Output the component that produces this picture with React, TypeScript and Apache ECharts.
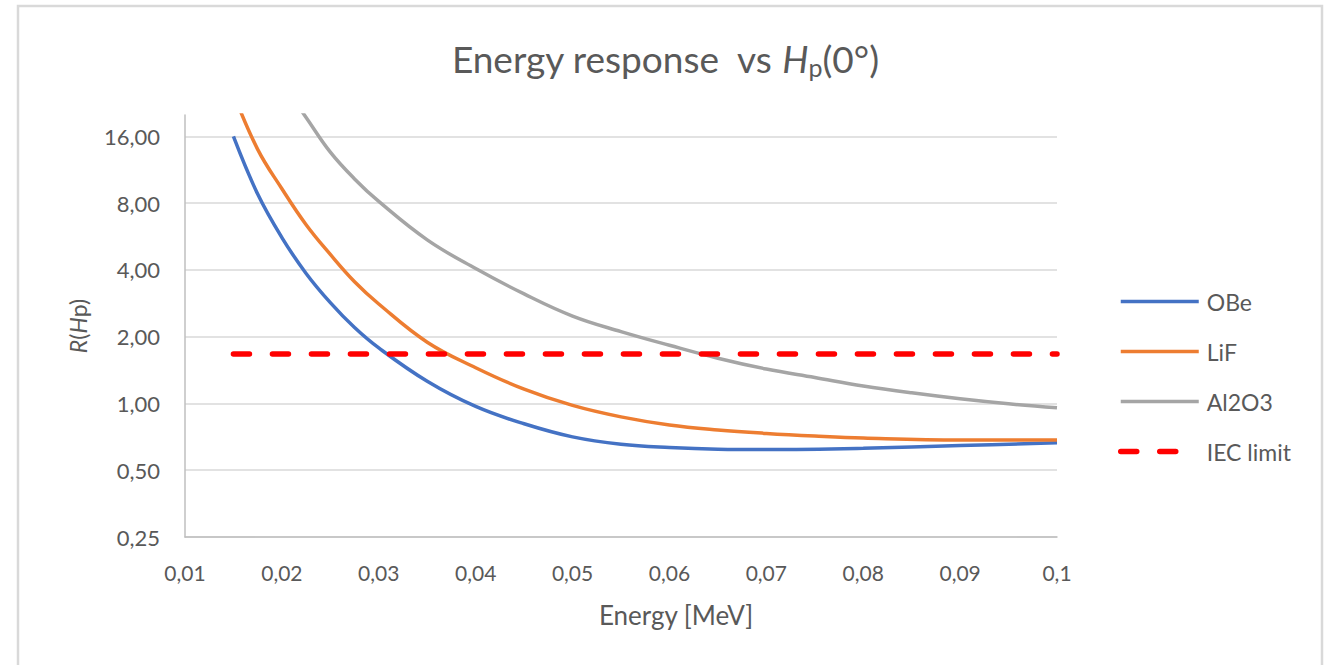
import React, { useEffect, useRef } from 'react';
import * as echarts from 'echarts';

// Energy [MeV] / response R(Hp) readings per series
const obeEnergy = [0.015, 0.0175, 0.02, 0.0225, 0.025, 0.0275, 0.03, 0.035, 0.04, 0.045, 0.05, 0.055, 0.06, 0.065, 0.07, 0.08, 0.09, 0.1];
const obeValues = [16, 8.8, 5.6, 3.86, 2.85, 2.2, 1.78, 1.26, 0.97, 0.81, 0.707, 0.655, 0.633, 0.622, 0.62, 0.628, 0.646, 0.665];

const lifEnergy = [0.015, 0.0175, 0.02, 0.0225, 0.025, 0.0275, 0.03, 0.035, 0.04, 0.045, 0.05, 0.055, 0.06, 0.065, 0.07, 0.075, 0.08, 0.09, 0.1];
const lifValues = [25, 14, 9.3, 6.4, 4.7, 3.54, 2.81, 1.89, 1.45, 1.16, 0.98, 0.87, 0.8, 0.76, 0.733, 0.713, 0.698, 0.684, 0.685];

const alEnergy = [0.02, 0.0225, 0.025, 0.0275, 0.03, 0.035, 0.04, 0.045, 0.05, 0.055, 0.06, 0.065, 0.07, 0.075, 0.08, 0.085, 0.09, 0.095, 0.1];
const alValues = [28, 19.5, 13.6, 10.3, 8.15, 5.47, 4.06, 3.12, 2.48, 2.11, 1.83, 1.6, 1.43, 1.31, 1.2, 1.117, 1.05, 0.997, 0.956];

const iecEnergy = [0.015, 0.1];
const iecValues = [1.67, 1.67];

const seriesNames = ['OBe', 'LiF', 'Al2O3', 'IEC limit'];
const seriesColors = ['#4472C4', '#ED7D31', '#A5A5A5', '#FF0000'];

const xMin = 0.01;
const xMax = 0.1;
const xStep = 0.01;
const yMin = 0.25;
const yMax = 20;

const pair = (xs: number[], ys: number[]) => xs.map((x, i) => [x, ys[i]]);

export default function App() {
  const ref = useRef<HTMLDivElement>(null);
  useEffect(() => {
    const chart = echarts.init(ref.current!, null, { renderer: 'svg' });
    const font = 'Lato, "Noto Sans", sans-serif';
    const txt = '#595959';
    const curve = (i: number, xs: number[], ys: number[]) => ({
      name: seriesNames[i],
      type: 'line',
      data: pair(xs, ys),
      showSymbol: false,
      symbol: 'none',
      smooth: 0.4,
      color: seriesColors[i],
      lineStyle: { width: 3.5, color: seriesColors[i] },
    });
    chart.setOption({
      animation: false,
      backgroundColor: '#ffffff',
      textStyle: { fontFamily: font },
      graphic: [
        {
          type: 'rect',
          silent: true,
          shape: { x: 18, y: 6, width: 1304, height: 720 },
          style: { fill: 'none', stroke: '#d9d9d9', lineWidth: 2.5 },
        },
      ],
      title: {
        text: '{a|Energy response  vs }{i|H}{s|p}{a|(0°)}',
        left: 'center',
        top: 32,
        textStyle: {
          fontWeight: 'normal',
          rich: {
            a: { fontSize: 37, color: txt, fontFamily: font, fontWeight: 'normal' },
            i: { fontSize: 37, color: txt, fontFamily: font, fontStyle: 'italic', fontWeight: 'normal' },
            s: { fontSize: 25, color: txt, fontFamily: font, fontWeight: 'normal', padding: [17, 0, 0, 0] },
          },
        },
      },
      legend: {
        orient: 'vertical',
        left: 1118,
        top: 290,
        itemWidth: 78,
        itemHeight: 22,
        itemGap: 27,
        padding: 0,
        data: seriesNames.map((n, i) => ({
          name: n,
          lineStyle: { width: i === 3 ? 5.5 : 3.5 },
        })),
        itemStyle: { opacity: 0 },
        textStyle: { fontSize: 23, color: txt, fontFamily: font, padding: [0, 0, 0, 3] },
      },
      grid: { left: 185, right: 273, top: 115, bottom: 128 },
      xAxis: {
        type: 'value',
        min: xMin,
        max: xMax,
        interval: xStep,
        axisLine: { lineStyle: { color: '#bfbfbf', width: 1.5 } },
        axisTick: { show: false },
        splitLine: { show: false },
        axisLabel: {
          margin: 25,
          fontSize: 21,
          color: txt,
          fontFamily: font,
          formatter: (v: number) => String(+v.toFixed(3)).replace('.', ','),
        },
        name: 'Energy [MeV]',
        nameLocation: 'middle',
        nameGap: 65,
        nameTextStyle: { fontSize: 26, color: txt, fontFamily: font, padding: [0, 0, 0, 110] },
      },
      yAxis: {
        type: 'log',
        logBase: 2,
        min: yMin,
        max: yMax,
        axisLine: { show: true, lineStyle: { color: '#bfbfbf', width: 1.5 } },
        axisTick: { show: false },
        splitLine: {
          lineStyle: {
            color: ['#d9d9d9', '#d9d9d9', '#d9d9d9', '#d9d9d9', '#d9d9d9', '#d9d9d9', '#d9d9d9', 'rgba(0,0,0,0)'],
            width: 1.5,
          },
        },
        axisLabel: {
          margin: 25,
          fontSize: 22,
          color: txt,
          fontFamily: font,
          formatter: (v: number) => {
            const l = Math.log2(v);
            if (Math.abs(l - Math.round(l)) > 1e-6) return '';
            return v.toFixed(2).replace('.', ',');
          },
        },
        name: '{i|R}{n|(}{i|H}{n|p)}',
        nameLocation: 'middle',
        nameRotate: 90,
        nameGap: 96,
        nameTextStyle: {
          rich: {
            i: { fontSize: 23, color: txt, fontFamily: font, fontStyle: 'italic' },
            n: { fontSize: 23, color: txt, fontFamily: font },
          },
        },
      },
      series: [
        curve(0, obeEnergy, obeValues),
        curve(1, lifEnergy, lifValues),
        curve(2, alEnergy, alValues),
        {
          name: seriesNames[3],
          type: 'line',
          data: pair(iecEnergy, iecValues),
          showSymbol: false,
          symbol: 'none',
          color: seriesColors[3],
          lineStyle: { width: 5.5, color: seriesColors[3], type: [16, 23], cap: 'round' },
        },
      ],
    });
    return () => chart.dispose();
  }, []);
  return <div ref={ref} style={{ position: 'fixed', left: 0, top: 0, width: 1330, height: 665 }} />;
}
